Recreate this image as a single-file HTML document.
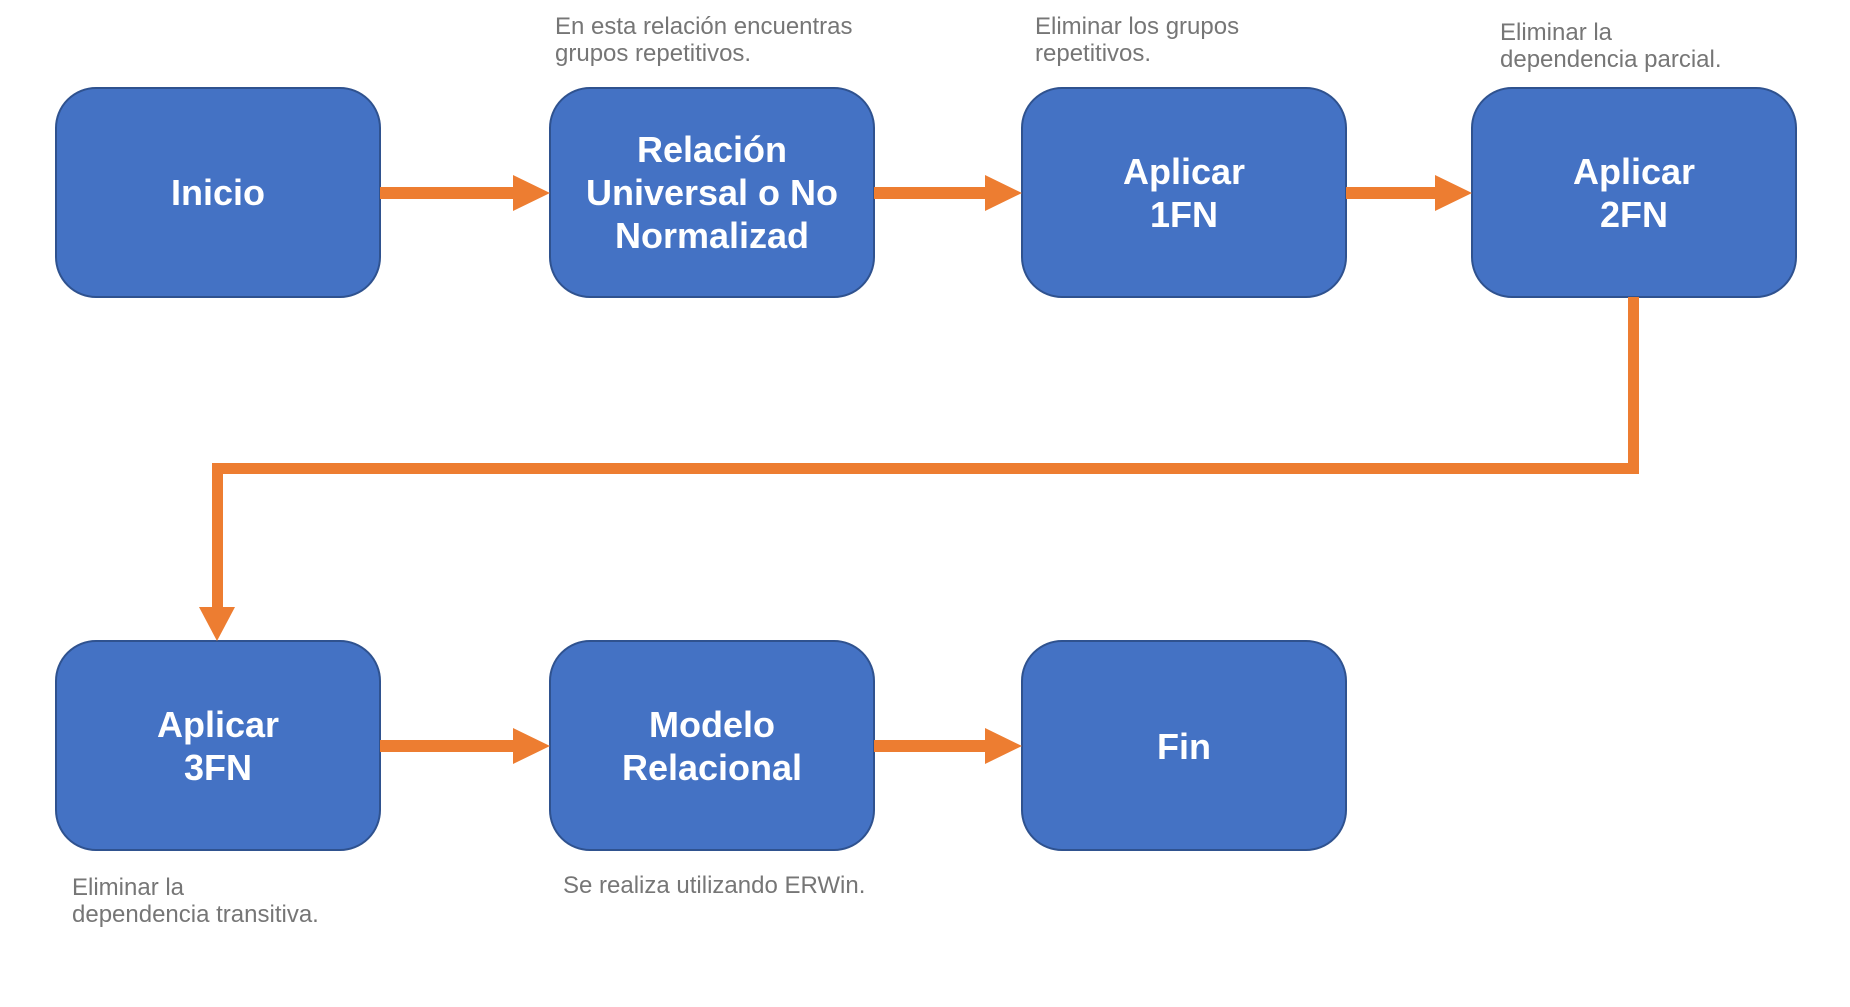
<!DOCTYPE html>
<html><head><meta charset="utf-8"><style>
html,body{margin:0;padding:0;background:#fff;}
svg{display:block;}
.b{font-family:"Liberation Sans",Arial,sans-serif;font-weight:bold;font-size:36px;fill:#fff;}
.n{font-family:"Liberation Sans",Arial,sans-serif;font-size:24px;fill:#767676;}
</style></head><body>
<svg width="1850" height="1007" viewBox="0 0 1850 1007">
<g fill="#4472C4" stroke="#2F528F" stroke-width="2">
<rect x="56" y="88" width="324" height="209" rx="40"/>
<rect x="550" y="88" width="324" height="209" rx="40"/>
<rect x="1022" y="88" width="324" height="209" rx="40"/>
<rect x="1472" y="88" width="324" height="209" rx="40"/>
<rect x="56" y="641" width="324" height="209" rx="40"/>
<rect x="550" y="641" width="324" height="209" rx="40"/>
<rect x="1022" y="641" width="324" height="209" rx="40"/>
</g>
<g fill="#ED7D31">
<rect x="380" y="187" width="136" height="12"/><polygon points="513,175 550,193 513,211"/>
<rect x="874" y="187" width="114" height="12"/><polygon points="985,175 1022,193 985,211"/>
<rect x="1346" y="187" width="93" height="12"/><polygon points="1435,175 1472,193 1435,211"/>
<rect x="380" y="740" width="136" height="12"/><polygon points="513,728 550,746 513,764"/>
<rect x="874" y="740" width="114" height="12"/><polygon points="985,728 1022,746 985,764"/>
<rect x="1628" y="297" width="11" height="177"/>
<rect x="212" y="463" width="1427" height="11"/>
<rect x="212" y="463" width="11" height="148"/>
<polygon points="199,607 235,607 217,641"/>
</g>
<g class="b" text-anchor="middle">
<text x="218" y="205">Inicio</text>
<text x="712" y="162">Relación</text>
<text x="712" y="205">Universal o No</text>
<text x="712" y="248">Normalizad</text>
<text x="1184" y="184">Aplicar</text>
<text x="1184" y="227">1FN</text>
<text x="1634" y="184">Aplicar</text>
<text x="1634" y="227">2FN</text>
<text x="218" y="737">Aplicar</text>
<text x="218" y="780">3FN</text>
<text x="712" y="737">Modelo</text>
<text x="712" y="780">Relacional</text>
<text x="1184" y="759">Fin</text>
</g>
<g class="n">
<text x="555" y="34">En esta relación encuentras</text>
<text x="555" y="61">grupos repetitivos.</text>
<text x="1035" y="34">Eliminar los grupos</text>
<text x="1035" y="61">repetitivos.</text>
<text x="1500" y="40">Eliminar la</text>
<text x="1500" y="67">dependencia parcial.</text>
<text x="72" y="895">Eliminar la</text>
<text x="72" y="922">dependencia transitiva.</text>
<text x="563" y="893">Se realiza utilizando ERWin.</text>
</g>
</svg>
</body></html>
